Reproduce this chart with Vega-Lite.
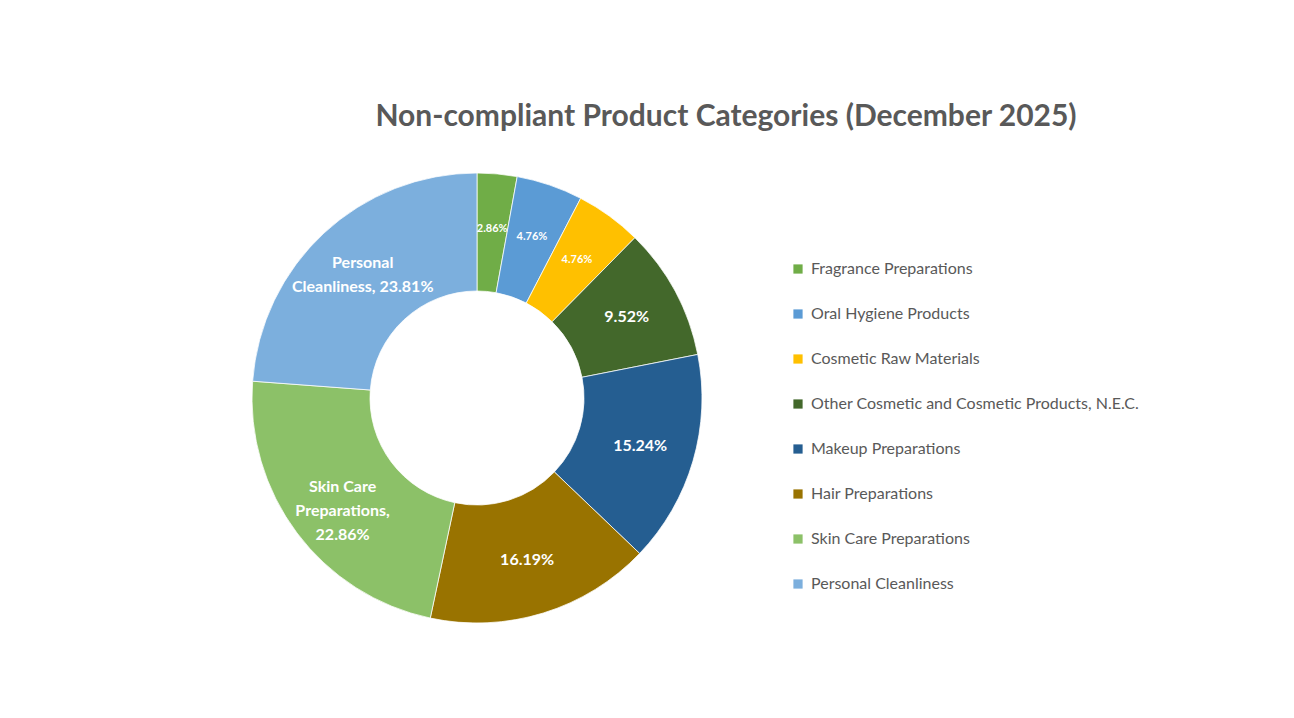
{
  "$schema": "https://vega.github.io/schema/vega-lite/v6.json",
  "autosize": {"type": "none"},
  "padding": {"left": 252, "top": 173, "right": 592, "bottom": 95},
  "width": 450,
  "height": 450,
  "background": "white",
  "config": {"view": {"stroke": null}, "font": "Lato"},
  "title": {
    "text": "Non-compliant Product Categories (December 2025)",
    "font": "Lato",
    "fontSize": 30,
    "fontWeight": "bold",
    "color": "#595959",
    "anchor": "middle",
    "dx": 249,
    "offset": 40
  },
  "data": {
    "values": [
      {"rank": 1, "category": "Fragrance Preparations", "pct": 2.86, "label": "2.86%"},
      {"rank": 2, "category": "Oral Hygiene Products", "pct": 4.76, "label": "4.76%"},
      {"rank": 3, "category": "Cosmetic Raw Materials", "pct": 4.76, "label": "4.76%"},
      {"rank": 4, "category": "Other Cosmetic and Cosmetic Products, N.E.C.", "pct": 9.52, "label": "9.52%"},
      {"rank": 5, "category": "Makeup Preparations", "pct": 15.24, "label": "15.24%"},
      {"rank": 6, "category": "Hair Preparations", "pct": 16.19, "label": "16.19%"},
      {"rank": 7, "category": "Skin Care Preparations", "pct": 22.86, "label": "Skin Care\nPreparations,\n22.86%"},
      {"rank": 8, "category": "Personal Cleanliness", "pct": 23.81, "label": "Personal\nCleanliness, 23.81%"}
    ]
  },
  "transform": [
    {"stack": "pct", "groupby": [], "sort": [{"field": "rank", "order": "ascending"}], "as": ["t0", "t1"]},
    {"calculate": "(datum.t0 + datum.t1) / 2", "as": "tmid"}
  ],
  "layer": [
    {
      "mark": {"type": "arc", "outerRadius": 225, "innerRadius": 107, "stroke": "white", "strokeWidth": 0.75},
      "encoding": {
        "theta": {"field": "t0", "type": "quantitative", "scale": {"domain": [0, 100]}},
        "theta2": {"field": "t1"},
        "color": {
          "field": "category",
          "type": "nominal",
          "scale": {
            "domain": ["Fragrance Preparations", "Oral Hygiene Products", "Cosmetic Raw Materials", "Other Cosmetic and Cosmetic Products, N.E.C.", "Makeup Preparations", "Hair Preparations", "Skin Care Preparations", "Personal Cleanliness"],
            "range": ["#70AD47", "#5B9BD5", "#FFC000", "#43682B", "#255E91", "#997300", "#8CC168", "#7CAFDD"]
          },
          "legend": {
            "title": null,
            "orient": "none",
            "legendX": 538,
            "legendY": 88,
            "symbolType": "square",
            "symbolSize": 85,
            "symbolStrokeWidth": 0,
            "labelFont": "Lato",
            "labelFontSize": 16,
            "labelColor": "#595959",
            "labelOffset": 5,
            "labelLimit": 500,
            "rowPadding": 29
          }
        }
      }
    },
    {
      "transform": [{"filter": "indexof(datum.label, '\\n') < 0"}],
      "mark": {"type": "text", "radius": 170, "color": "white", "fontWeight": "bold", "font": "Lato"},
      "encoding": {
        "theta": {"field": "tmid", "type": "quantitative", "scale": {"domain": [0, 100]}},
        "text": {"field": "label", "type": "nominal"},
        "size": {"condition": {"test": "datum.pct < 5", "value": 11}, "value": 16}
      }
    },
    {
      "transform": [{"filter": "indexof(datum.label, '\\n') >= 0"}],
      "mark": {"type": "text", "radius": 168, "dy": -12, "color": "white", "fontWeight": "bold", "lineBreak": "\n", "font": "Lato", "lineHeight": 24, "fontSize": 16},
      "encoding": {
        "theta": {"field": "tmid", "type": "quantitative", "scale": {"domain": [0, 100]}},
        "text": {"field": "label", "type": "nominal"}
      }
    }
  ]
}
